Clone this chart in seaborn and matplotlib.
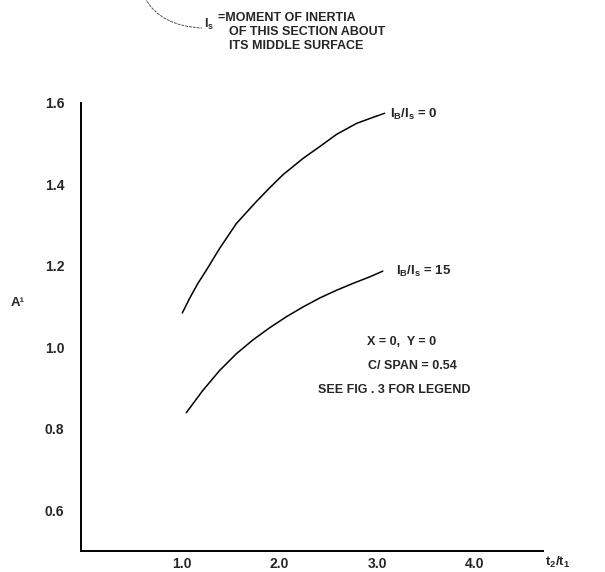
import numpy as np
import pandas as pd
import matplotlib
matplotlib.use("Agg")
import matplotlib.pyplot as plt
from matplotlib.path import Path
from matplotlib.patches import PathPatch
import seaborn as sns

# ---- data ----
ratio_upper = [1.007, 1.082, 1.167, 1.253, 1.390, 1.561, 1.766, 1.903, 2.039, 2.244,
               2.415, 2.587, 2.792, 2.997]
a_upper = [1.084, 1.120, 1.157, 1.189, 1.243, 1.304, 1.358, 1.392, 1.424, 1.464,
           1.493, 1.523, 1.550, 1.568]
ratio_lower = [1.048, 1.218, 1.390, 1.561, 1.731, 1.903, 2.074, 2.244, 2.415, 2.587,
               2.757, 2.928, 3.060]
a_lower = [0.839, 0.894, 0.943, 0.984, 1.018, 1.048, 1.075, 1.099, 1.121, 1.140,
           1.157, 1.173, 1.187]
series_labels = ["$\\mathbf{I_B/I_s}$ = 0", "$\\mathbf{I_B/I_s}$ = 15"]
x_ticks = [1.0, 2.0, 3.0, 4.0]
x_tick_labels = ["1.0", "2.0", "3.0", "4.0"]
y_ticks = [0.6, 0.8, 1.0, 1.2, 1.4, 1.6]
y_tick_labels = ["0.6", "0.8", "1.0", "1.2", "1.4", "1.6"]
y_minor = [0.7, 0.9, 1.1, 1.3, 1.5]

sns.set_theme(style="white")
plt.rcParams["font.family"] = ["Liberation Sans", "DejaVu Sans"]
plt.rcParams["mathtext.fontset"] = "custom"
plt.rcParams["mathtext.rm"] = "Liberation Sans"
plt.rcParams["mathtext.bf"] = "Liberation Sans:bold"
plt.rcParams["mathtext.it"] = "Liberation Sans:italic"

W, H = 605, 572
fig = plt.figure(figsize=(W / 100, H / 100), dpi=100)
fig.patch.set_facecolor("white")
ax = fig.add_axes([81 / W, 1 - 550.7 / H, (543 - 81) / W, (550.7 - 103) / H])
ax.set_facecolor("white")

df = pd.concat([
    pd.DataFrame({"ratio": ratio_upper, "A": a_upper, "curve": series_labels[0]}),
    pd.DataFrame({"ratio": ratio_lower, "A": a_lower, "curve": series_labels[1]}),
])
sns.lineplot(data=df, x="ratio", y="A", units="curve", estimator=None, sort=False,
             color="black", linewidth=1.1, ax=ax, legend=False)

ax.set_xlim(-0.03, 4.70)
ax.set_ylim(0.5, 1.6)
for s in ["top", "right"]:
    ax.spines[s].set_visible(False)
for s in ["left", "bottom"]:
    ax.spines[s].set_color("black")
    ax.spines[s].set_linewidth(1.4)

ax.set_xticks(x_ticks)
ax.set_xticklabels(x_tick_labels, fontsize=10, fontweight="bold")
ax.set_yticks(y_ticks)
ax.set_yticklabels(y_tick_labels, fontsize=10, fontweight="bold")
ax.set_yticks(y_minor, minor=True)
ax.tick_params(axis="both", which="major", direction="out", length=3, width=0.9,
               color="black")
ax.tick_params(axis="x", which="major", pad=1.5)
ax.tick_params(axis="y", which="major", pad=9)
ax.tick_params(axis="y", which="minor", direction="out", length=2.5, width=0.8, color="black")
ax.set_xlabel("")
ax.set_ylabel("")

# leader for upper curve label
ax.plot([3.0, 3.08], [1.568, 1.575], color="black", linewidth=1.0)
ax.text(3.13, 1.572, series_labels[0], fontsize=9.5, fontweight="bold", ha="left", va="center")
ax.text(3.19, 1.186, series_labels[1], fontsize=9.5, fontweight="bold", ha="left", va="center")

# notes
ax.text(3.25, 1.012, "X = 0,  Y = 0", fontsize=9, fontweight="bold", ha="center", va="center")
ax.text(3.36, 0.953, "C/ SPAN = 0.54", fontsize=9, fontweight="bold", ha="center", va="center")
ax.text(3.18, 0.895, "SEE FIG . 3 FOR LEGEND", fontsize=9, fontweight="bold", ha="center", va="center")

# axis titles
fig.text(11 / W, 1 - 303 / H, "A¹", fontsize=9.5, fontweight="bold", ha="left", va="center")
fig.text(545 / W, 1 - 562 / H, "$\\mathbf{t_2/t_1}$", fontsize=9.5, ha="left", va="center")

# header note
def fx(x):
    return x / W
def fy(y):
    return 1 - y / H
verts = [(fx(145), fy(-2)), (fx(160), fy(26)), (fx(202), fy(28))]
path = Path(verts, [Path.MOVETO, Path.CURVE3, Path.CURVE3])
fig.add_artist(PathPatch(path, facecolor="none", edgecolor="#555555", linewidth=0.7,
                         linestyle=(0, (3, 1)), transform=fig.transFigure))
fig.text(fx(204), fy(24), "$\\mathbf{I_s}$", fontsize=9, ha="left", va="center")
fig.text(fx(218), fy(18), "=MOMENT OF INERTIA", fontsize=9, fontweight="bold", ha="left", va="center")
fig.text(fx(229), fy(32), "OF THIS SECTION ABOUT", fontsize=9, fontweight="bold", ha="left", va="center")
fig.text(fx(229), fy(46), "ITS MIDDLE SURFACE", fontsize=9, fontweight="bold", ha="left", va="center")

fig.savefig("out.png", dpi=100, facecolor="white")
